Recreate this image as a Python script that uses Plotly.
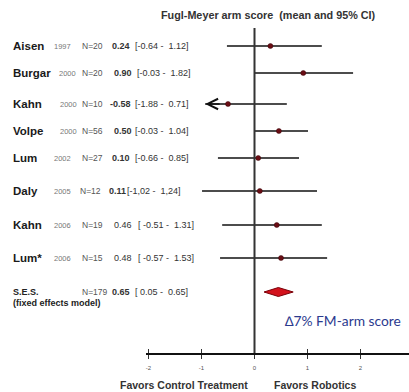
import plotly.graph_objects as go

# ---------------- data ----------------
studies = ["Aisen", "Burgar", "Kahn", "Volpe", "Lum", "Daly", "Kahn", "Lum*"]
years = ["1997", "2000", "2000", "2000", "2002", "2005", "2006", "2006"]
n_labels = ["N=20", "N=20", "N=10", "N=56", "N=27", "N=12", "N=19", "N=15"]
est_labels = ["0.24", "0.90", "-0.58", "0.50", "0.10", "0.11", "0.46", "0.48"]
ci_labels = ["[-0.64 -  1.12]", "[-0.03 -  1.82]", "[-1.88 -  0.71]", "[-0.03 -  1.04]",
             "[-0.66 -  0.85]", "[-1,02 -  1,24]", "[ -0.51 -  1.31]", "[ -0.57 -  1.53]"]

# values as drawn in the picture
plot_est = [0.30, 0.92, -0.50, 0.46, 0.07, 0.10, 0.42, 0.50]
plot_lo = [-0.52, 0.0, -0.93, 0.0, -0.69, -0.99, -0.61, -0.65]
plot_hi = [1.27, 1.86, 0.61, 1.01, 0.84, 1.18, 1.27, 1.37]
kahn_arrow_idx = 2

pooled_label = ["S.E.S.", "(fixed effects model)"]
pooled_n = "N=179"
pooled_est_label = "0.65"
pooled_ci_label = "[ 0.05 -  0.65]"
pooled_est = 0.45
pooled_lo = 0.18
pooled_hi = 0.73

tick_vals = [-2, -1, 0, 1, 2]
tick_text = ["-2", "-1", "0", "1", "2"]

# ---------------- layout helpers ----------------
W, H = 409, 392
ROW_Y = [46, 73, 104, 131, 158, 191, 225, 258]
POOLED_Y = 292
AXIS_Y = 353
DIAMOND_HALF = 4.5

FONT = "Liberation Sans, Arial, sans-serif"

fig = go.Figure()

# CI lines
lx, ly = [], []
for lo, hi, y in zip(plot_lo, plot_hi, ROW_Y):
    lx += [lo, hi, None]
    ly += [y, y, None]
fig.add_trace(go.Scatter(x=lx, y=ly, mode="lines", line=dict(color="#111", width=1.7),
                         hoverinfo="skip", showlegend=False))
# point estimates
fig.add_trace(go.Scatter(x=plot_est, y=ROW_Y, mode="markers",
                         marker=dict(color="#6a0d14", size=5, line=dict(color="#3a0508", width=0.5)),
                         showlegend=False))
# pooled diamond
fig.add_trace(go.Scatter(
    x=[pooled_lo, pooled_est, pooled_hi, pooled_est, pooled_lo],
    y=[POOLED_Y, POOLED_Y - DIAMOND_HALF, POOLED_Y, POOLED_Y + DIAMOND_HALF, POOLED_Y],
    mode="lines", fill="toself", fillcolor="#d3121c",
    line=dict(color="#7a0008", width=1), showlegend=False))

# vertical no-effect line
fig.add_shape(type="line", xref="x", yref="y", x0=0, x1=0, y0=28, y1=AXIS_Y,
              line=dict(color="#333", width=2))

# arrow for Kahn 2000 (CI truncated)
fig.add_annotation(x=plot_lo[kahn_arrow_idx], y=ROW_Y[kahn_arrow_idx],
                   ax=plot_lo[kahn_arrow_idx] + 0.3, ay=ROW_Y[kahn_arrow_idx],
                   xref="x", yref="y", axref="x", ayref="y", text="",
                   showarrow=True, arrowhead=5, arrowsize=1.3, arrowwidth=1.6, arrowcolor="#111")

def px(x):
    return x / W

def txt(x, y, s, size, color="#222", bold=False):
    fig.add_annotation(x=px(x), y=y, xref="paper", yref="y", xanchor="left", yanchor="middle",
                       text=("<b>%s</b>" % s) if bold else s, showarrow=False,
                       font=dict(family=FONT, size=size, color=color))

year_x = [52, 57, 58, 58, 52, 52, 52, 52]
n_x = [80, 80, 80, 80, 80, 78, 80, 80]
est_x = [110, 112, 108, 112, 110, 107, 112, 112]
ci_x = [133, 135, 133, 133, 133, 125, 136, 136]
est_bold = [True, True, True, True, True, True, False, False]

for i in range(len(studies)):
    y = ROW_Y[i]
    txt(11, y, studies[i], 11.5, "#1a1a1a", True)
    txt(year_x[i], y + 0.5, years[i], 7.5, "#777")
    txt(n_x[i], y, n_labels[i], 8.5, "#555")
    txt(est_x[i], y, est_labels[i], 9, "#333", est_bold[i])
    txt(ci_x[i], y, ci_labels[i], 9, "#333")

txt(11, POOLED_Y, pooled_label[0], 9, "#222", True)
txt(11, POOLED_Y + 11, pooled_label[1], 9, "#222", True)
txt(80, POOLED_Y, pooled_n, 8.5, "#555")
txt(110, POOLED_Y, pooled_est_label, 9, "#333", True)
txt(133, POOLED_Y, pooled_ci_label, 9, "#333")

# title
fig.add_annotation(x=px(268), y=15, xref="paper", yref="y", xanchor="center", yanchor="middle",
                   text="<b>Fugl-Meyer arm score  (mean and 95% CI)</b>", showarrow=False,
                   font=dict(family=FONT, size=10.8, color="#333"))
# delta note
fig.add_annotation(x=px(283), y=320, xref="paper", yref="y", xanchor="left", yanchor="middle",
                   text="\u22067% FM-arm score", showarrow=False,
                   font=dict(family="Lato, sans-serif", size=13.8, color="#2b3a8e"))
# bottom labels (paper y measured from bottom)
for x_lab, s in [(118, "Favors Control Treatment"), (272, "Favors Robotics")]:
    fig.add_annotation(x=px(x_lab), y=(H - 385) / H, xref="paper", yref="paper",
                       xanchor="left", yanchor="middle", text="<b>%s</b>" % s, showarrow=False,
                       font=dict(family=FONT, size=10.5, color="#333"))

x_left_px = 146
x0_px = 254.5
unit_px = 53.0
xr = [(x_left_px - x0_px) / unit_px, (W - x0_px) / unit_px]

fig.update_layout(
    width=W, height=H, margin=dict(l=0, r=0, t=0, b=0),
    paper_bgcolor="white", plot_bgcolor="white",
    xaxis=dict(domain=[x_left_px / W, 1], range=xr, showgrid=False, zeroline=False,
               showline=True, linecolor="#111", linewidth=1.5,
               ticks="outside", ticklen=4, tickwidth=1, tickcolor="#333",
               tickvals=tick_vals, ticktext=tick_text, ticklabelstandoff=4,
               tickfont=dict(family=FONT, size=6, color="#555"), fixedrange=True),
    xaxis2=dict(domain=[x_left_px / W, 1], range=xr, overlaying="x", anchor="y",
                showgrid=False, zeroline=False, showline=False,
                ticks="inside", ticklen=4, tickwidth=1, tickcolor="#333",
                tickvals=tick_vals, showticklabels=False, side="bottom"),
    yaxis=dict(domain=[(H - AXIS_Y) / H, 1], range=[AXIS_Y, 0], visible=False, fixedrange=True),
    showlegend=False,
)
fig.add_trace(go.Scatter(x=[None], y=[None], xaxis="x2", yaxis="y", showlegend=False))

fig.write_html("out.html", config={"displayModeBar": False},
               post_script="document.body.style.margin='0px';")
